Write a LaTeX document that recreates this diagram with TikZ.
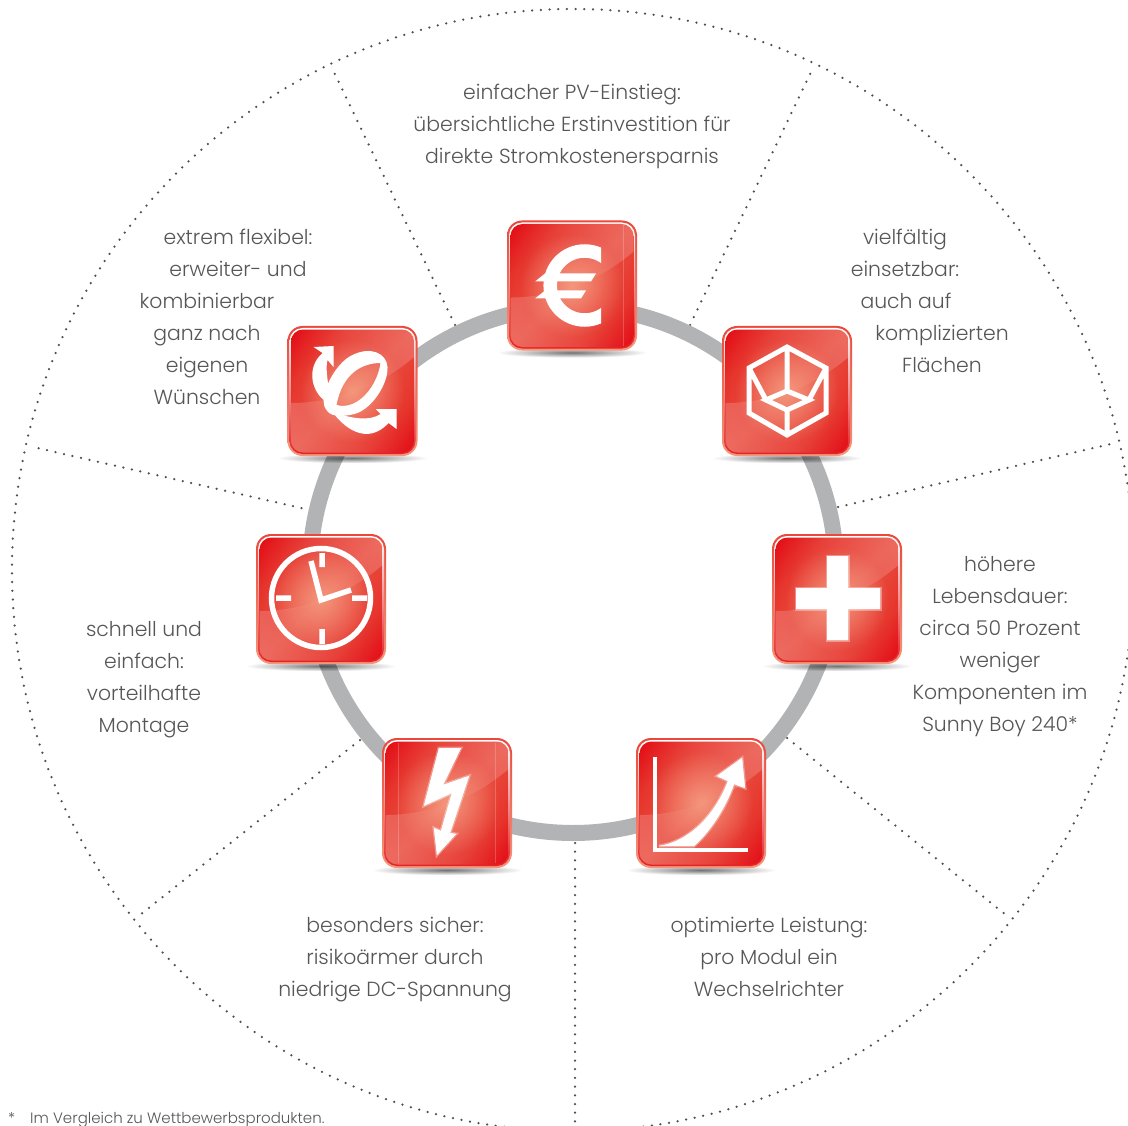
\documentclass[tikz,border=0pt]{standalone}
\usepackage{fontspec}
\setmainfont{Poppins}[UprightFont=* Light]
\usetikzlibrary{fadings}
\definecolor{txt}{HTML}{565656}
\definecolor{dotc}{HTML}{4F4F4F}
\definecolor{ringc}{HTML}{B1B3B5}
\definecolor{redA}{HTML}{E30A14}
\definecolor{redM}{HTML}{E6332A}
\definecolor{redB}{HTML}{E9483A}
\definecolor{rimA}{HTML}{F5977A}
\definecolor{rimB}{HTML}{F6A898}
\definecolor{rimC}{HTML}{E3212A}
\definecolor{glowc}{HTML}{F8B090}
\pgfdeclareverticalshading{iconface}{100bp}{color(0bp)=(redA); color(15bp)=(redA); color(30bp)=(redM); color(50bp)=(redB); color(70bp)=(redM); color(85bp)=(redA); color(100bp)=(redA)}
\tikzfading[name=softglow, inner color=transparent!0, outer color=transparent!100]
\tikzset{
  spoke/.style={dotc, line width=2.5pt, line cap=round, dash pattern=on 0pt off 8.7pt},
  ringline/.style={ringc, line width=16pt},
  label/.style={txt, font=\fontsize{20.4}{32}\selectfont, align=center, inner sep=0pt},
  glyphfill/.style={fill=white, draw=white, draw opacity=.35, line width=3pt, preaction={fill=white}},
}
\newcommand{\lineat}[2]{\makebox[0pt][c]{\hspace*{#1pt}\hspace*{#1pt}#2}\\}
\newcommand{\iconbase}{%
  \fill[black, opacity=.55, path fading=softglow] (-75,62) rectangle (75,72);
  \shade[top color=redB, bottom color=rimA, rounded corners=15pt] (-65,-65) rectangle (65,65);
  \shade[top color=white, middle color=rimB, bottom color=rimC, rounded corners=13pt] (-63,-63) rectangle (63,63);
  \begin{scope}
    \clip[rounded corners=12pt] (-61.5,-61.5) rectangle (61.5,61.5);
    \shade[shading=iconface, shading angle=45] (-61.5,-61.5) rectangle (61.5,61.5);
    \fill[white, fill opacity=.2, path fading=west] (-65,13) .. controls (-10,13) and (35,-10) .. (65,-37) -- (65,-65) -- (-65,-65) -- cycle;
    \fill[white, fill opacity=.2, path fading=east] (-65,12) .. controls (-10,13) and (35,-10) .. (65,-37) -- (65,65) -- (-65,65) -- cycle;
    \fill[glowc, opacity=.7, path fading=softglow] (-52,-52) rectangle (52,52);
  \end{scope}
}
\begin{document}
\begin{tikzpicture}[x=1pt,y=-1pt]
\useasboundingbox (0,0) rectangle (1128,1126);
\clip (0,0) rectangle (1128,1126);
% hub and outer limit
\coordinate (hub) at (573,570);
\coordinate (s1a) at (690,325); \coordinate (s1b) at (812,70);
\coordinate (s2a) at (838,507); \coordinate (s2b) at (1115,443);
\coordinate (s3a) at (787,738); \coordinate (s3b) at (1006,915);
\coordinate (s4a) at (575,843); \coordinate (s4b) at (575,1126);
\coordinate (s5a) at (360,740); \coordinate (s5b) at (140,915);
\coordinate (s6a) at (310,510); \coordinate (s6b) at (33,447);
\coordinate (s7a) at (455,325); \coordinate (s7b) at (333,70);
\draw[spoke] (hub) circle[radius=561pt];
\foreach \n in {1,...,7} \draw[spoke] (s\n a) -- (s\n b);
\draw[ringline] (hub) circle[radius=263pt];
% euro
\begin{scope}[shift={(572,285.5)}]
  \iconbase
  \draw[white, opacity=.2, line width=.6pt] (51,-60) -- (51,60);
  \begin{scope}
    \clip (-70,-70) rectangle (29,70);
    \draw[white, line width=13.5pt] (12.7,0) circle[radius=34.5pt];
  \end{scope}
  \fill[white] (-27,-12) -- (24,-12) -- (19,-4) -- (-37,-4) -- cycle;
  \fill[white] (-27,5) -- (14,5) -- (9,13) -- (-37,13) -- cycle;
\end{scope}
% cube
\begin{scope}[shift={(787,391)}]
  \iconbase
  \draw[white, line width=5pt, line join=miter]
    (0,-44) -- (39,-23) -- (39,22) -- (0,44) -- (-38,22) -- (-38,-23) -- cycle
    (0,-44) -- (0,0) (0,19) -- (0,44)
    (0,0) -- (22,9) -- (0,19) -- (-21,9) -- cycle
    (-38,-23) -- (-21,9) (39,-23) -- (22,9);
\end{scope}
% plus
\begin{scope}[shift={(837,599)}]
  \iconbase
  \fill[glyphfill] (-10,-43) -- (11,-43) -- (11,-11) -- (43,-11) -- (43,10) -- (11,10) -- (11,41) -- (-10,41) -- (-10,10) -- (-41,10) -- (-41,-11) -- (-10,-11) -- cycle;
\end{scope}
% chart
\begin{scope}[shift={(701,803)}]
  \iconbase
  \draw[white, line width=4.5pt, line join=miter] (-46,-46) -- (-46,47) -- (47,47);
  \fill[glyphfill] (-42,43) .. controls (-10,38) and (15,10) .. (27,-22) -- (16,-27) -- (41,-45) -- (44,-15) -- (33,-19) .. controls (25,5) and (8,30) .. (-7,43) -- cycle;
\end{scope}
% bolt
\begin{scope}[shift={(447,803)}]
  \iconbase
  \draw[white, opacity=.2, line width=.6pt] (-49,-60) -- (-49,60) (48,-60) -- (48,60);
  \fill[glyphfill] (-8,-55) -- (14,-55) -- (-4,-18) -- (22,-27) -- (3,30) -- (9,31) -- (-10,52) -- (-13,25) -- (-6,28) -- (5,-10) -- (-23,2.7) -- cycle;
\end{scope}
% clock
\begin{scope}[shift={(321,599)}]
  \iconbase
  \draw[white, line width=5.5pt] (0,-1) circle[radius=49.5pt];
  \draw[white, line width=5.5pt, line join=miter]
    (1,-46) -- (1,-32) (1,30) -- (1,45) (-45,-1) -- (-30,-1) (31,-1) -- (46,-1)
    (-10,-38) -- (0,1) -- (30,-9);
\end{scope}
% flexible
\begin{scope}[shift={(352.5,391)}]
  \iconbase
  \fill[white, even odd rule]
    (-26,19) .. controls (-36,8) and (-18,-28) .. (0,-36) .. controls (18,-45) and (34,-38) .. (35,-24)
    .. controls (36,-8) and (20,18) .. (2,23) .. controls (-10,26) and (-22,26) .. (-26,19) -- cycle
    (-16,14) .. controls (-10,-18) and (10,-28) .. (28,-28) .. controls (25,-5) and (5,20) .. (-16,14) -- cycle;
  \fill[white] (-24,12) .. controls (-40,4) and (-48,-22) .. (-30,-38) -- (-39,-44) -- (-19,-45) -- (-19,-24) -- (-25,-31) .. controls (-28,-20) and (-22,-2) .. (-24,12) -- cycle;
  \fill[white] (-24,15) .. controls (-10,38) and (15,55) .. (36,32) -- (44,38) -- (44,18) -- (23,18) -- (28,23) .. controls (18,30) and (0,28) .. (-16,22) -- cycle;
\end{scope}
% texts
\node[label] (t1) at (572,126) {einfacher PV-Einstieg:\\übersichtliche Erstinvestition für\\direkte Stromkostenersparnis};
\node[label, align=left] (t2) at (905,317) {\lineat{0}{vielfältig}\lineat{0}{einsetzbar:}\lineat{1}{auch auf}\lineat{37}{komplizierten}\lineat{37}{Flächen}};
\node[label] (t3) at (1000,647) {höhere\\Lebensdauer:\\circa 50 Prozent\\weniger\\Komponenten im\\Sunny Boy 240*};
\node[label] (t4) at (769,957) {optimierte Leistung:\\pro Modul ein\\Wechselrichter};
\node[label] (t5) at (395,960) {besonders sicher:\\risikoärmer durch\\niedrige DC-Spannung};
\node[label] (t6) at (144,680) {schnell und\\einfach:\\vorteilhafte\\Montage};
\node[label, align=left] (t7) at (207,333) {\lineat{31}{extrem flexibel:}\lineat{31}{erweiter- und}\lineat{0}{kombinierbar}\lineat{0}{ganz nach}\lineat{0}{eigenen}\lineat{0}{Wünschen}};
\node[txt, font=\fontsize{15}{16}\selectfont, anchor=base west, inner sep=0pt] (fn) at (8,1123) {*\hspace{15pt}Im Vergleich zu Wettbewerbsprodukten.};
\end{tikzpicture}
\end{document}
